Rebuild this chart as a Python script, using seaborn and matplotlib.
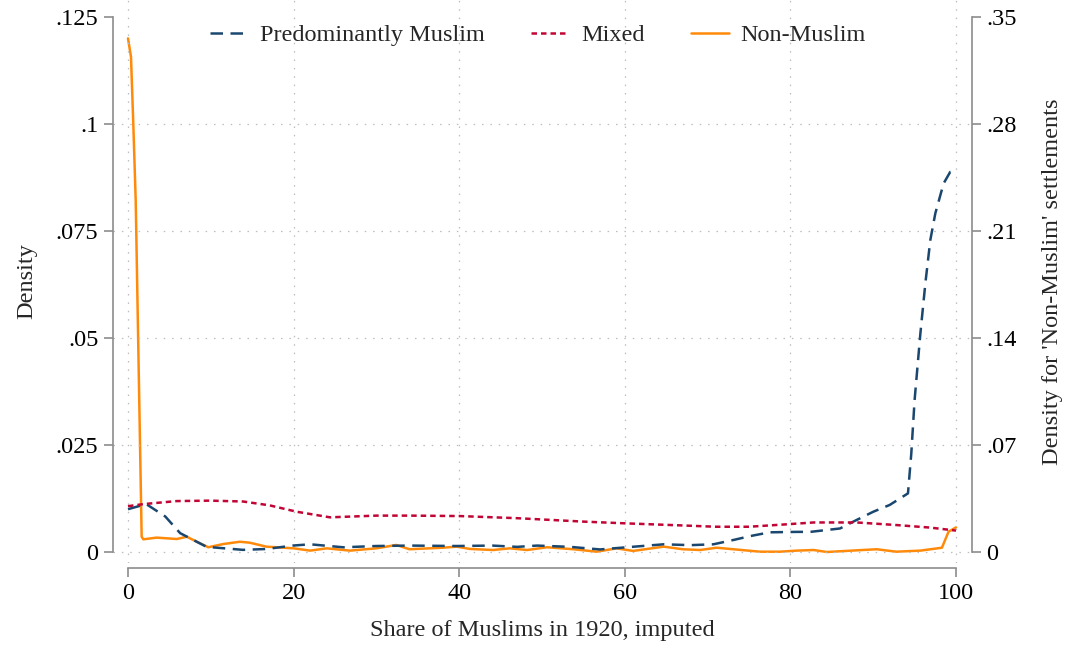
import matplotlib
matplotlib.use("Agg")
import matplotlib.pyplot as plt
import seaborn as sns
import pandas as pd
from matplotlib.lines import Line2D

# ---- data ----
pm_x = [0, 2.2, 4.5, 6.3, 9.5, 13.9, 16.7, 19.9, 22, 26, 30, 34, 39.7, 44, 47, 49.4, 53.4,
        57, 60.2, 64.7, 67.9, 70.7, 73.1, 75.1, 77.5, 80.8, 82.4, 86, 87.6, 90, 92, 94.2,
        94.6, 95.0, 95.7, 96.3, 96.9, 97.5, 98.5, 99.3, 100]
pm_y = [0.0100, 0.0112, 0.0083, 0.0044, 0.0012, 0.0005, 0.0007, 0.0015, 0.0018, 0.0011,
        0.0014, 0.0015, 0.0014, 0.0015, 0.0012, 0.0015, 0.0012, 0.0006, 0.0011, 0.0018,
        0.0016, 0.0018, 0.0028, 0.0037, 0.0046, 0.0047, 0.0047, 0.0055, 0.0071, 0.0094,
        0.0110, 0.0137, 0.0230, 0.0355, 0.0511, 0.0628, 0.0729, 0.0791, 0.0861, 0.0888, 0.0892]

mx_x = [0, 1.9, 5.9, 9.9, 13.9, 17.1, 20.4, 24.4, 30, 34, 40, 47, 55, 60, 67, 71, 75, 79,
        82.8, 88, 92.8, 96.9, 100]
mx_y = [0.0107, 0.0112, 0.0119, 0.0120, 0.0118, 0.0109, 0.0094, 0.0081, 0.0085, 0.0085,
        0.0084, 0.0079, 0.0071, 0.0067, 0.0062, 0.0059, 0.0059, 0.0064, 0.0069, 0.0069,
        0.0063, 0.0057, 0.0050]

nm_x = [0, 0.36, 0.64, 0.93, 1.65, 1.85, 3.45, 5.9, 7.1, 8.3, 9.7, 11.5, 13.5, 14.7, 16.7,
        20, 22, 24, 26.8, 30, 32.4, 34, 38, 39.7, 41.3, 44.1, 46.1, 48.2, 50.6, 53.8, 56.6,
        59, 61, 64.7, 67, 69.1, 71.1, 73.1, 76.3, 78.7, 80.8, 82.8, 84.4, 90.4, 92.8, 95.7,
        98.3, 99.1, 100]
nm_y = [0.336, 0.324, 0.280, 0.230, 0.010, 0.0083, 0.0094, 0.0085, 0.010, 0.0067, 0.0031,
        0.0052, 0.0067, 0.0061, 0.0035, 0.0024, 0.0009, 0.0024, 0.0009, 0.0024, 0.0046,
        0.0018, 0.0028, 0.0035, 0.0020, 0.0013, 0.0024, 0.0013, 0.0031, 0.0018, 0.0002,
        0.0024, 0.0007, 0.0035, 0.0018, 0.0013, 0.0028, 0.0018, 0.0002, 0.0002, 0.0009,
        0.0013, 0.0000, 0.0018, 0.0002, 0.0009, 0.0028, 0.0133, 0.0161]

labels = ["Predominantly Muslim", "Mixed", "Non-Muslim"]
x_ticks = [0, 20, 40, 60, 80, 100]
left_ticks = [0, 0.025, 0.05, 0.075, 0.1, 0.125]
left_ticklabels = ["0", ".025", ".05", ".075", ".1", ".125"]
right_ticks = [0, 0.07, 0.14, 0.21, 0.28, 0.35]
right_ticklabels = ["0", ".07", ".14", ".21", ".28", ".35"]

# ---- style ----
sns.set_theme(style="white")
plt.rcParams["font.family"] = ["Liberation Serif", "DejaVu Serif"]
FS = 17.5
c_pm, c_mx, c_nm = "#1a476f", "#c10534", "#ff8a0a"
axis_col = "#8c8c8c"

fig = plt.figure(figsize=(10.68, 6.49), dpi=100)
L, R, B, T = 113, 972, 563, 0
W, H = 1068, 649
ax = fig.add_axes([L / W, 1 - B / H, (R - L) / W, (B - T) / H])
ax2 = ax.twinx()

df_pm = pd.DataFrame({"x": pm_x, "y": pm_y})
df_mx = pd.DataFrame({"x": mx_x, "y": mx_y})
df_nm = pd.DataFrame({"x": nm_x, "y": nm_y})

lw = 1.8
pm_ls = (0, (5.0, 3.0))
mx_ls = (0, (2.2, 1.6))
sns.lineplot(data=df_pm, x="x", y="y", ax=ax, color=c_pm, lw=lw, linestyle=pm_ls,
             estimator=None, sort=False, legend=False)
sns.lineplot(data=df_mx, x="x", y="y", ax=ax, color=c_mx, lw=lw, linestyle=mx_ls,
             estimator=None, sort=False, legend=False)
sns.lineplot(data=df_nm, x="x", y="y", ax=ax2, color=c_nm, lw=lw, linestyle="-",
             estimator=None, sort=False, legend=False)

# scales
px_per_x = (956 - 128) / 100.0
xmin = -(128 - L) / px_per_x
xmax = 100 + (R - 956) / px_per_x
ax.set_xlim(xmin, xmax)
px_per_y = (552 - 17) / 0.125
ymin = -(B - 552) / px_per_y
ymax = 0.125 + (17 - T) / px_per_y
ax.set_ylim(ymin, ymax)
ax2.set_ylim(ymin * 0.35 / 0.125, ymax * 0.35 / 0.125)

ax.set_xticks(x_ticks)
ax.set_xticklabels([str(v) for v in x_ticks])
ax.set_yticks(left_ticks)
ax.set_yticklabels(left_ticklabels)
ax2.set_yticks(right_ticks)
ax2.set_yticklabels(right_ticklabels)

# spines
for a in (ax, ax2):
    for s in a.spines.values():
        s.set_visible(False)
ax.spines["left"].set_visible(True)
ax.spines["left"].set_bounds(0, 0.125)
ax.spines["bottom"].set_visible(True)
ax.spines["bottom"].set_bounds(0, 100)
ax.spines["bottom"].set_position(("outward", 3.6))
ax2.spines["right"].set_visible(True)
ax2.spines["right"].set_bounds(0, 0.35)
for s in (ax.spines["left"], ax.spines["bottom"], ax2.spines["right"]):
    s.set_color(axis_col)
    s.set_linewidth(1.2)

ax.tick_params(axis="both", which="major", direction="out", length=6.5, width=1.2,
               color=axis_col, labelsize=FS, labelcolor="black", pad=4,
               left=True, bottom=True)
ax2.tick_params(axis="y", which="major", direction="out", length=6.5, width=1.2,
                color=axis_col, labelsize=FS, labelcolor="black", pad=4, right=True)

# grid
ax.grid(True, color="#bdbdbd", linestyle=(0, (1.2, 5.5)), linewidth=0.9)
ax2.grid(False)
ax.set_axisbelow(True)
ax.yaxis.get_gridlines()[-1].set_visible(False)
ax.set_zorder(ax2.get_zorder() + 1)
ax.patch.set_visible(False)

ax.set_xlabel("Share of Muslims in 1920, imputed", fontsize=FS, labelpad=12)
ax.set_ylabel("Density", fontsize=FS, labelpad=13)
ax2.set_ylabel("Density for 'Non-Muslim' settlements", fontsize=FS, labelpad=18)

handles = [Line2D([], [], color=c_pm, lw=lw, linestyle=pm_ls),
           Line2D([], [], color=c_mx, lw=lw, linestyle=mx_ls),
           Line2D([], [], color=c_nm, lw=lw, linestyle="-")]
fig.legend(handles, labels, loc="center", bbox_to_anchor=(0.504, 1 - 35 / H),
           ncol=3, frameon=False, fontsize=FS, handlelength=1.55, handletextpad=0.5,
           columnspacing=1.9)

fig.savefig("out.png", dpi=100)
